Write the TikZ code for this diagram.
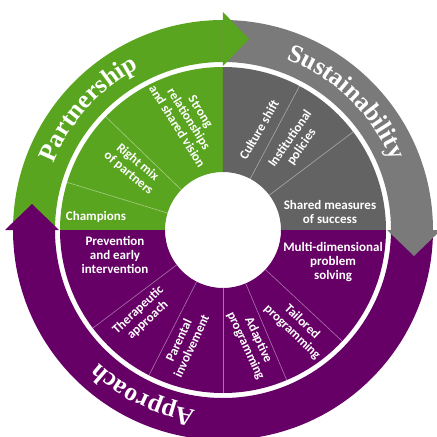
\documentclass[tikz,border=0pt]{standalone}
\usepackage{fontspec}
\setmainfont{Carlito}
\newfontfamily\outerfont{Liberation Serif}
\usetikzlibrary{decorations.text}
\definecolor{pgreen}{HTML}{5AA51F}
\definecolor{pgrayout}{HTML}{7A7A7A}
\definecolor{pgrayin}{HTML}{636363}
\definecolor{ppurple}{HTML}{660066}
\begin{document}
\begin{tikzpicture}[x=1pt,y=1pt,
  lbl/.style={text=white, font=\bfseries\fontsize{13}{14}\selectfont, align=center, inner sep=0pt},
  divider/.style={draw=white, draw opacity=0.45, line width=0.6pt},
  ringtext/.style={decorate, decoration={text along path, text align=center, text color=white, text={|\outerfont\bfseries\fontsize{25.5}{30}\selectfont|#1}}}]
\useasboundingbox (-223,-207) rectangle (214,230);
\def\Ra{58}\def\Rb{163}\def\Rc{168}\def\Rd{210}
% inner ring sectors
\fill[pgreen] (90:\Ra) arc[start angle=90,end angle=180,radius=\Ra] -- (180:\Rb) arc[start angle=180,end angle=90,radius=\Rb] -- cycle;
\fill[pgrayin] (0:\Ra) arc[start angle=0,end angle=90,radius=\Ra] -- (90:\Rb) arc[start angle=90,end angle=0,radius=\Rb] -- cycle;
\fill[ppurple] (180:\Ra) arc[start angle=180,end angle=360,radius=\Ra] -- (0:\Rb) arc[start angle=360,end angle=180,radius=\Rb] -- cycle;
% dividers
\foreach \a in {136,163,37,62,217,243,270,293,317}
  \draw[divider] (\a:\Ra) -- (\a:\Rb);
% outer bands
\fill[pgreen] (90:\Rc) arc[start angle=90,end angle=180,radius=\Rc] -- (180:\Rd) arc[start angle=180,end angle=90,radius=\Rd] -- cycle;
\fill[pgrayout] (0:\Rc) arc[start angle=0,end angle=90,radius=\Rc] -- (90:\Rd) arc[start angle=90,end angle=0,radius=\Rd] -- cycle;
\fill[ppurple] (180:\Rc) arc[start angle=180,end angle=360,radius=\Rc] -- (0:\Rd) arc[start angle=360,end angle=180,radius=\Rd] -- cycle;
% arrow heads
\fill[pgreen] (0,164) -- (0,218) -- (26,191) -- cycle;
\fill[pgrayout] (164,0) -- (218,0) -- (191,-26) -- cycle;
\fill[ppurple] (-164,0) -- (-218,0) -- (-191,26) -- cycle;
% outer labels
\path[ringtext=Partnership] (178:182) arc[start angle=178,end angle=98,radius=182];
\path[ringtext=Sustainability] (86:182) arc[start angle=86,end angle=6,radius=182];
\path[ringtext=Approach] (284:182) arc[start angle=284,end angle=204,radius=182];
% inner labels
\node[lbl, rotate=-58] (strong) at (-34,111) {Strong\\relationships\\and shared vision};
\node[lbl, rotate=-40] (mix) at (-90,62) {Right mix\\of partners};
\node[lbl] (champ) at (-127,13) {Champions};
\node[lbl, rotate=60] (culture) at (36,100) {Culture shift};
\node[lbl, rotate=55] (inst) at (73,87) {Institutional\\policies};
\node[lbl] (shared) at (107,18) {Shared measures\\of success};
\node[lbl] (multi) at (110,-32) {Multi-dimensional\\problem\\solving};
\node[lbl, rotate=-44] (tail) at (74,-97) {Tailored\\programming};
\node[lbl, rotate=-65] (adapt) at (29,-113) {Adaptive\\programming};
\node[lbl, rotate=65] (parent) at (-38,-113) {Parental\\involvement};
\node[lbl, rotate=43] (thera) at (-80,-85) {Therapeutic\\approach};
\node[lbl] (prev) at (-108,-25) {Prevention\\and early\\intervention};
\end{tikzpicture}
\end{document}
